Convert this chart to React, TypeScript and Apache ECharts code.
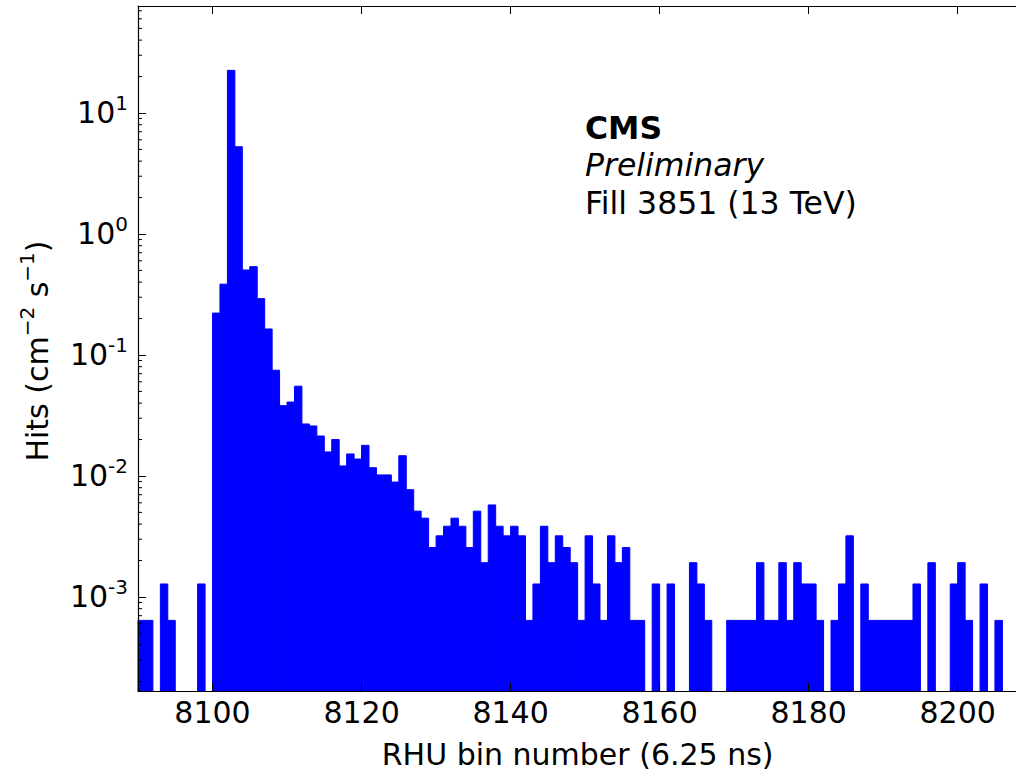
import React, { useEffect, useRef } from 'react';
import * as echarts from 'echarts';

// Histogram bins (left edges), width 1 RHU bin
const binEdges: number[] = [
  8090, 8091, 8092, 8093, 8094, 8095, 8096, 8097, 8098, 8099,
  8100, 8101, 8102, 8103, 8104, 8105, 8106, 8107, 8108, 8109,
  8110, 8111, 8112, 8113, 8114, 8115, 8116, 8117, 8118, 8119,
  8120, 8121, 8122, 8123, 8124, 8125, 8126, 8127, 8128, 8129,
  8130, 8131, 8132, 8133, 8134, 8135, 8136, 8137, 8138, 8139,
  8140, 8141, 8142, 8143, 8144, 8145, 8146, 8147, 8148, 8149,
  8150, 8151, 8152, 8153, 8154, 8155, 8156, 8157, 8158, 8159,
  8160, 8161, 8162, 8163, 8164, 8165, 8166, 8167, 8168, 8169,
  8170, 8171, 8172, 8173, 8174, 8175, 8176, 8177, 8178, 8179,
  8180, 8181, 8182, 8183, 8184, 8185, 8186, 8187, 8188, 8189,
  8190, 8191, 8192, 8193, 8194, 8195, 8196, 8197, 8198, 8199,
  8200, 8201, 8202, 8203, 8204, 8205, 8206, 8207,
];

// Hits (cm^-2 s^-1) per bin
const hits: number[] = [
  0.00064, 0.00064, 0, 0.00128, 0.00064, 0, 0, 0, 0.00128, 0,
  0.222, 0.385, 22.5, 5.26, 0.504, 0.537, 0.292, 0.164, 0.0748, 0.0381,
  0.0408, 0.0552, 0.0269, 0.0259, 0.0214, 0.0158, 0.02, 0.0121, 0.0152, 0.0138,
  0.0179, 0.0117, 0.0102, 0.0102, 0.0089, 0.0147, 0.0077, 0.00512, 0.00448, 0.00256,
  0.0032, 0.00384, 0.00448, 0.00384, 0.00256, 0.00512, 0.00192, 0.00576, 0.00384, 0.0032,
  0.00384, 0.0032, 0.00064, 0.00128, 0.00384, 0.00192, 0.0032, 0.00256, 0.00192, 0.00064,
  0.0032, 0.00128, 0.00064, 0.0032, 0.00192, 0.00256, 0.00064, 0.00064, 0, 0.00128,
  0, 0.00128, 0, 0, 0.00192, 0.00128, 0.00064, 0, 0, 0.00064,
  0.00064, 0.00064, 0.00064, 0.00192, 0.00064, 0.00064, 0.00192, 0.00064, 0.00192, 0.00128,
  0.00128, 0.00064, 0, 0.00064, 0.00128, 0.0032, 0, 0.00128, 0.00064, 0.00064,
  0.00064, 0.00064, 0.00064, 0.00064, 0.00128, 0, 0.00192, 0, 0, 0.00128,
  0.00192, 0.00064, 0, 0.00128, 0, 0.00064, 0, 0,
];

const X_MIN = 8090;
const X_MAX = 8208;
const X_TICK_STEP = 20;
const Y_MIN = 1.67e-4;
const Y_MAX = 76.6;

const annotationLines: string[] = ['CMS', 'Preliminary', 'Fill 3851 (13 TeV)'];
const xAxisTitle = 'RHU bin number (6.25 ns)';

const FONT = 'DejaVu Sans';
const W = 1024;
const H = 774;
const GRID = { left: 138, top: 6, right: 6.7, bottom: 78.3 };

export default function App() {
  const ref = useRef<HTMLDivElement>(null);

  useEffect(() => {
    if (!ref.current) return;
    const chart = echarts.init(ref.current, undefined, { renderer: 'svg' });

    const data = hits
      .map((v, i) => [binEdges[i], binEdges[i] + 1, v])
      .filter((d) => d[2] > 0);

    const supRich = {
      m: { fontSize: 30, lineHeight: 40, fontFamily: FONT, color: '#000' },
      s: { fontSize: 20, lineHeight: 20, fontFamily: FONT, color: '#000', verticalAlign: 'top' },
    };

    const option: any = {
      animation: false,
      backgroundColor: '#ffffff',
      grid: { ...GRID, containLabel: false },
      xAxis: [
        {
          type: 'value',
          min: X_MIN,
          max: X_MAX,
          minInterval: X_TICK_STEP,
          maxInterval: X_TICK_STEP,
          z: 10,
          splitLine: { show: false },
          axisLine: { show: true, onZero: false, lineStyle: { color: '#000', width: 1.2 } },
          axisTick: { show: true, inside: true, length: 8, lineStyle: { color: '#000', width: 1 } },
          axisLabel: {
            show: true,
            showMinLabel: false,
            showMaxLabel: false,
            fontSize: 30,
            lineHeight: 30,
            fontFamily: FONT,
            color: '#000',
            margin: 6,
            formatter: (v: number) => String(Math.round(v)),
          },
          name: xAxisTitle,
          nameLocation: 'middle',
          nameGap: 48,
          nameTextStyle: { fontSize: 30, lineHeight: 30, fontFamily: FONT, color: '#000' },
        },
        {
          type: 'value',
          position: 'top',
          min: X_MIN,
          max: X_MAX,
          minInterval: X_TICK_STEP,
          maxInterval: X_TICK_STEP,
          z: 10,
          splitLine: { show: false },
          axisLine: { show: true, onZero: false, lineStyle: { color: '#000', width: 1.2 } },
          axisTick: { show: true, inside: true, length: 8, lineStyle: { color: '#000', width: 1 } },
          axisLabel: { show: false },
        },
      ],
      yAxis: [
        {
          type: 'log',
          logBase: 10,
          min: Y_MIN,
          max: Y_MAX,
          z: 10,
          splitLine: { show: false },
          axisLine: { show: true, onZero: false, lineStyle: { color: '#000', width: 1.2 } },
          axisTick: { show: true, inside: true, length: 8, lineStyle: { color: '#000', width: 1 } },
          minorTick: { show: false },
          axisLabel: {
            show: true,
            showMinLabel: false,
            showMaxLabel: false,
            margin: 10,
            formatter: (v: number) => {
              const e = Math.round(Math.log10(v));
              return `{m|10}{s|${e}}`;
            },
            rich: supRich,
          },
        },
      ],
      series: [
        {
          type: 'custom',
          xAxisIndex: 0,
          yAxisIndex: 0,
          encode: { x: [0, 1], y: 2 },
          data,
          renderItem: (params: any, api: any) => {
            const x0 = api.value(0);
            const x1 = api.value(1);
            const v = api.value(2);
            const pTop = api.coord([x0, v]);
            const pBot = api.coord([x1, Y_MIN]);
            return {
              type: 'rect',
              shape: {
                x: pTop[0],
                y: pTop[1],
                width: pBot[0] - pTop[0],
                height: pBot[1] - pTop[1],
              },
              style: { fill: '#0000ff', stroke: '#0000ff', lineWidth: 1 },
            };
          },
        },
      ],
    };

    chart.setOption(option);

    // Minor log ticks on the left spine
    const xLeft = chart.convertToPixel({ xAxisIndex: 0 }, X_MIN) as number;
    const minorEls: any[] = [];
    for (let e = -4; e <= 1; e++) {
      for (let m = 2; m <= 9; m++) {
        const v = m * Math.pow(10, e);
        if (v <= Y_MIN || v >= Y_MAX) continue;
        const py = chart.convertToPixel({ yAxisIndex: 0 }, v) as number;
        minorEls.push({
          type: 'line',
          z: 100,
          shape: { x1: xLeft, y1: py, x2: xLeft + 4, y2: py },
          style: { stroke: '#000', lineWidth: 1 },
        });
      }
    }

    const textX = 585;
    const annFont = 31.5;
    chart.setOption({
      graphic: [
        ...minorEls,
        {
          type: 'text',
          x: 37,
          y: 351,
          rotation: Math.PI / 2,
          z: 100,
          style: {
            text: '{m|Hits (cm}{s|−2}{m| s}{s|−1}{m|)}',
            rich: supRich,
            align: 'center',
            verticalAlign: 'middle',
          },
        },
        {
          type: 'text',
          x: textX,
          y: 128,
          z: 100,
          style: {
            text: annotationLines[0],
            font: `bold ${annFont}px "${FONT}"`,
            fill: '#000',
            align: 'left',
            verticalAlign: 'middle',
          },
        },
        {
          type: 'text',
          x: textX,
          y: 165,
          z: 100,
          style: {
            text: annotationLines[1],
            font: `italic ${annFont}px "${FONT}"`,
            fill: '#000',
            align: 'left',
            verticalAlign: 'middle',
          },
        },
        {
          type: 'text',
          x: textX,
          y: 203,
          z: 100,
          style: {
            text: annotationLines[2],
            font: `${annFont}px "${FONT}"`,
            fill: '#000',
            align: 'left',
            verticalAlign: 'middle',
          },
        },
      ],
    });

    return () => chart.dispose();
  }, []);

  return (
    <div
      style={{
        position: 'fixed',
        left: 0,
        top: 0,
        width: 1016,
        height: H,
        overflow: 'hidden',
        background: '#fff',
      }}
    >
      <div ref={ref} style={{ width: W, height: H }} />
    </div>
  );
}
